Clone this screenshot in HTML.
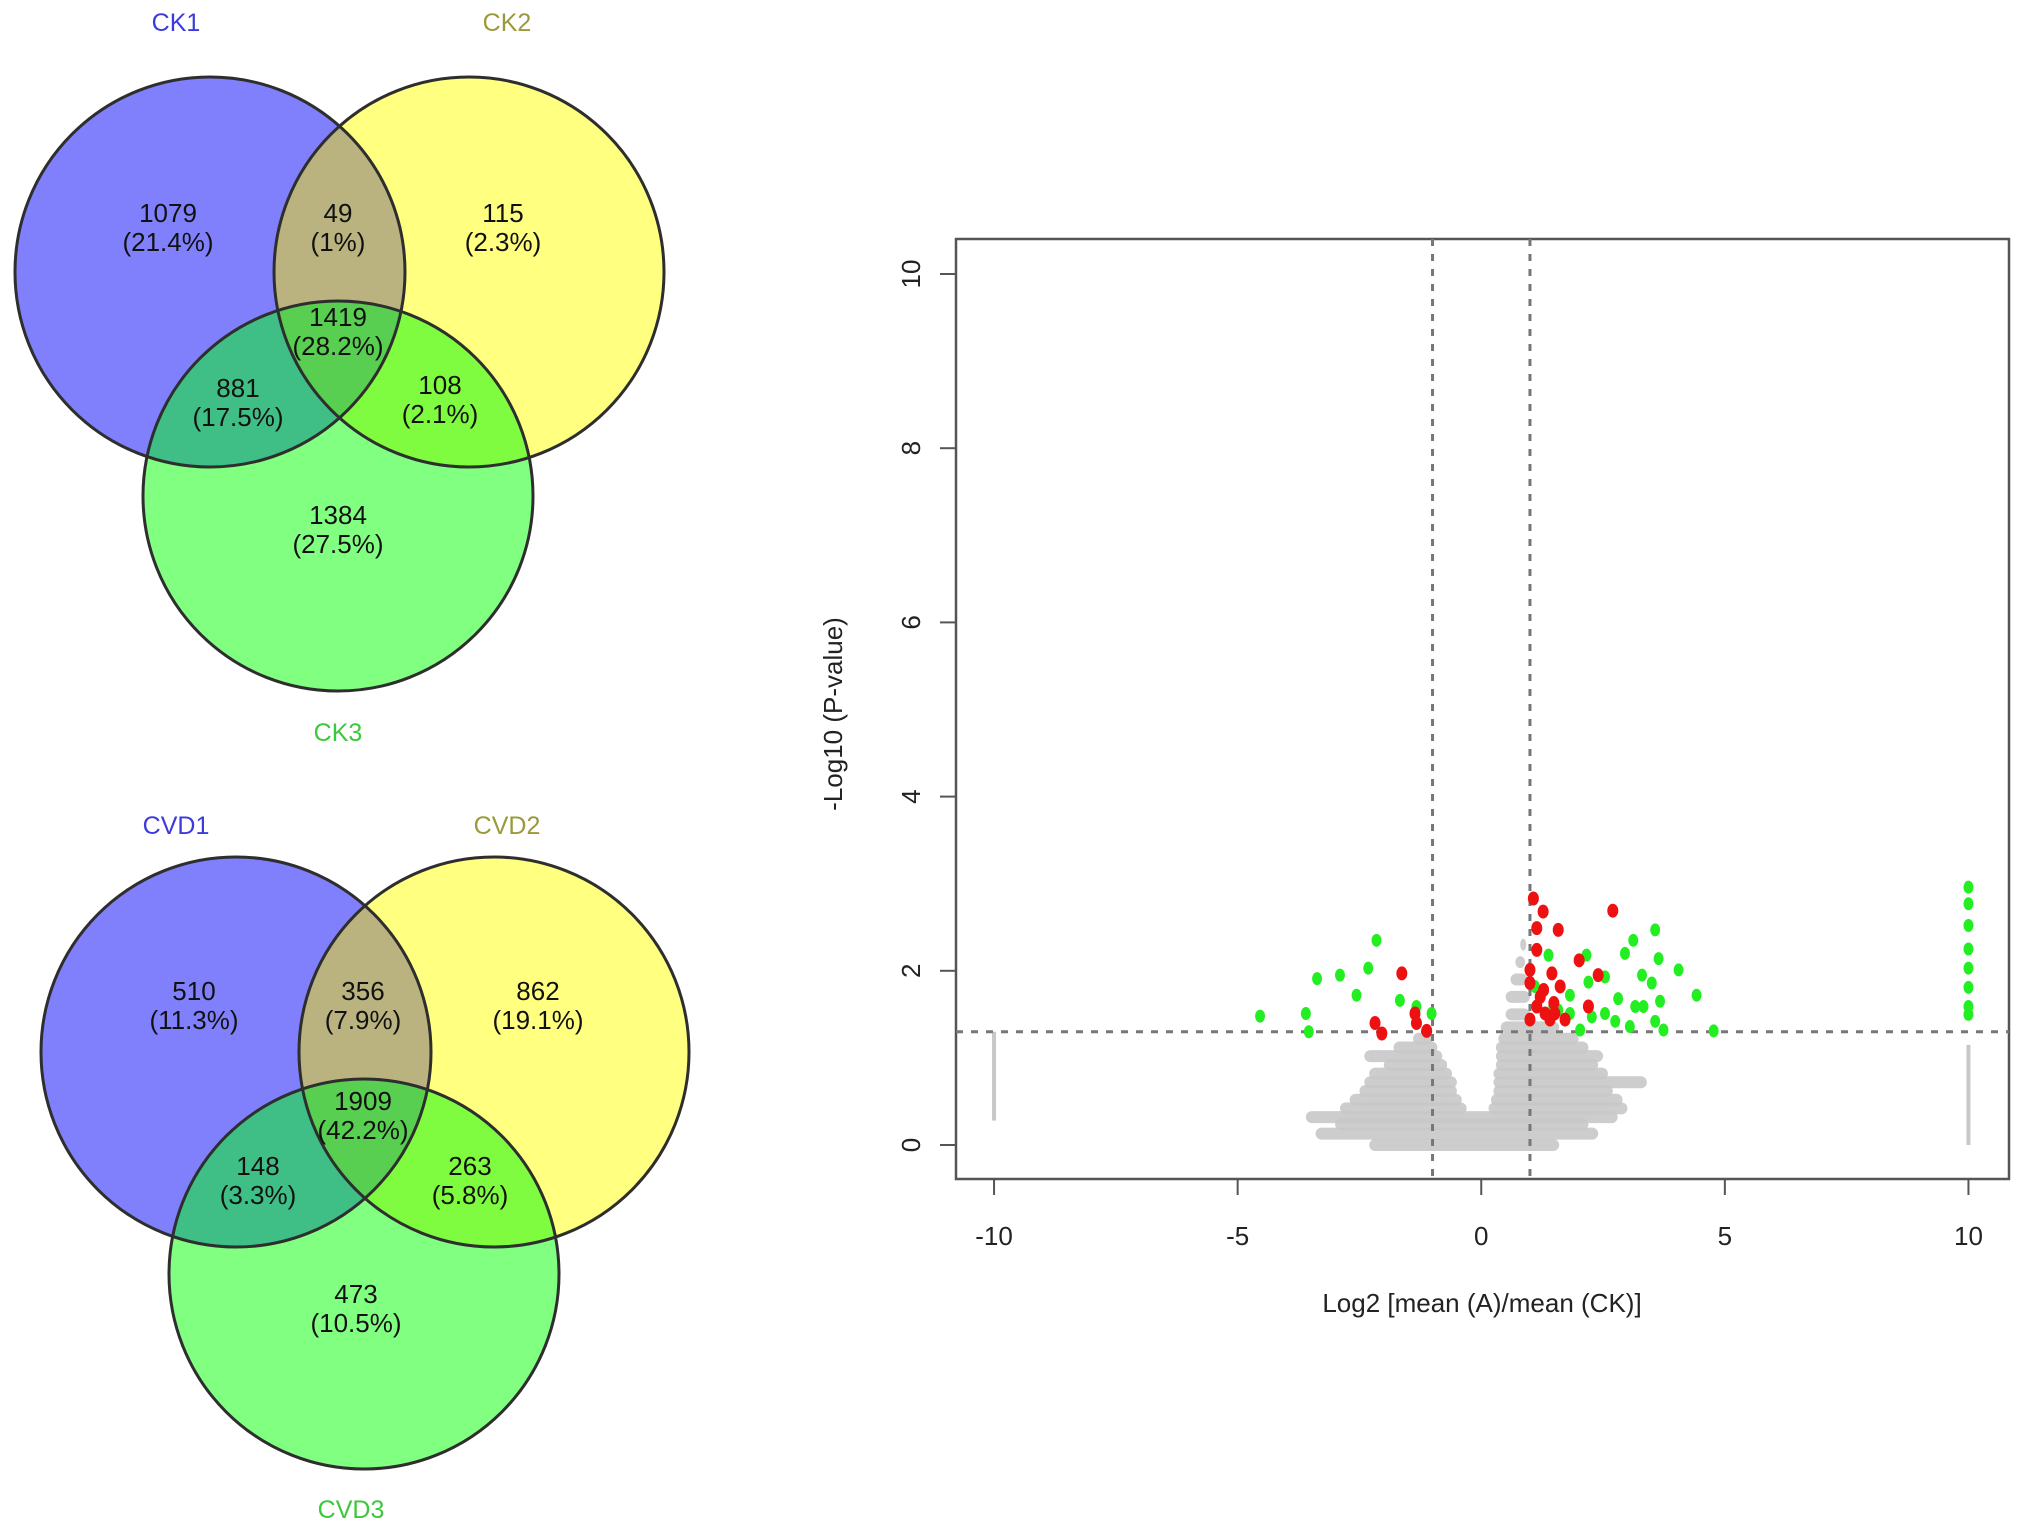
<!DOCTYPE html>
<html><head><meta charset="utf-8"><style>
html,body{margin:0;padding:0;background:#fff;}
svg{display:block;font-family:"Liberation Sans",Arial,sans-serif;}
</style></head><body>
<svg id="root" width="2024" height="1532" viewBox="0 0 2024 1532" xmlns="http://www.w3.org/2000/svg">
<defs>
<clipPath id="cA1"><circle cx="210" cy="272" r="195"/></clipPath>
<clipPath id="cB1"><circle cx="469" cy="272" r="195"/></clipPath>
<clipPath id="cC1"><circle cx="338" cy="496" r="195"/></clipPath>
<clipPath id="cA2"><circle cx="236" cy="1052" r="195"/></clipPath>
<clipPath id="cB2"><circle cx="494" cy="1052" r="195"/></clipPath>
<clipPath id="cC2"><circle cx="364" cy="1274" r="195"/></clipPath>
</defs>
<g id="venns"></g>
<g id="volcano"></g>
</svg>
<script>
const NS='http://www.w3.org/2000/svg';
function mk(tag,attrs,parent){const e=document.createElementNS(NS,tag);for(const k in attrs)e.setAttribute(k,attrs[k]);parent.appendChild(e);return e;}

// ---------- Venn data ----------
const venn1Sets=['CK1','CK2','CK3'];
const venn1Counts=[1079,49,115,1419,881,108,1384];
const venn1Pcts=['21.4%','1%','2.3%','28.2%','17.5%','2.1%','27.5%'];
const venn2Sets=['CVD1','CVD2','CVD3'];
const venn2Counts=[510,356,862,1909,148,263,473];
const venn2Pcts=['11.3%','7.9%','19.1%','42.2%','3.3%','5.8%','10.5%'];

function drawVenn(idx,sets,counts,pcts,circ,labelPos,textPos){
  const g=mk('g',{},document.getElementById('venns'));
  
  
  const cols=['#8080fd','#ffff80','#80ff80'];
  circ.forEach((c,i)=>{const e=mk('circle',{cx:c[0],cy:c[1],r:195,fill:cols[i]},g);
    
    });
  const A='url(#cA'+idx+')',B='url(#cB'+idx+')';
  let gg=mk('g',{'clip-path':A},g);mk('circle',{cx:circ[1][0],cy:circ[1][1],r:195,fill:'#bab37f'},gg);
  gg=mk('g',{'clip-path':A},g);mk('circle',{cx:circ[2][0],cy:circ[2][1],r:195,fill:'#3fbf86'},gg);
  gg=mk('g',{'clip-path':B},g);mk('circle',{cx:circ[2][0],cy:circ[2][1],r:195,fill:'#80fc40'},gg);
  gg=mk('g',{'clip-path':A},g);let g2=mk('g',{'clip-path':B},gg);mk('circle',{cx:circ[2][0],cy:circ[2][1],r:195,fill:'#58cf50'},g2);
  circ.forEach(c=>mk('circle',{cx:c[0],cy:c[1],r:195,fill:'none',stroke:'#2e2e2e','stroke-width':3},g));
  const lcols=['#3b3bdd','#9a9a3a','#3cc83c'];
  labelPos.forEach((p,i)=>{const t=mk('text',{x:p[0],y:p[1],'text-anchor':'middle','font-size':25,fill:lcols[i]},g);t.textContent=sets[i];
    });
  textPos.forEach((p,i)=>{const t=mk('text',{x:p[0],y:p[1],'text-anchor':'middle','font-size':26,fill:'#111'},g);t.textContent=counts[i];
    
    const t2=mk('text',{x:p[0],y:p[1]+29,'text-anchor':'middle','font-size':26,fill:'#111'},g);t2.textContent='('+pcts[i]+')';
    });
}
drawVenn(1,venn1Sets,venn1Counts,venn1Pcts,[[210,272],[469,272],[338,496]],
  [[176,31],[507,31],[338,741]],
  [[168,222],[338,222],[503,222],[338,326],[238,397],[440,394],[338,524]]);
drawVenn(2,venn2Sets,venn2Counts,venn2Pcts,[[236,1052],[494,1052],[364,1274]],
  [[176,834],[507,834],[351,1518]],
  [[194,1000],[363,1000],[538,1000],[363,1110],[258,1175],[470,1175],[356,1303]]);

// ---------- Volcano data ----------
const xTicks=[-10,-5,0,5,10];
const yTicks=[0,2,4,6,8,10];
const redX=[1.07,1.27,1.58,1.14,2.70,1.14,2.01,2.40,1.45,1.62,1.00,1.00,1.21,1.14,1.41,1.00,2.20,-1.63,-2.18,-2.04,-1.36,-1.33,-1.12,1.31,1.51,1.72,1.28,1.49];
const redY=[2.83,2.68,2.47,2.49,2.69,2.24,2.12,1.95,1.97,1.82,2.01,1.86,1.70,1.59,1.44,1.44,1.59,1.97,1.40,1.28,1.51,1.40,1.31,1.51,1.51,1.44,1.78,1.63];
const greenX=[-2.15,-2.32,-2.90,-3.37,-2.56,-1.67,-4.54,-3.60,-3.54,-1.33,-1.02,3.57,3.12,2.95,2.16,1.38,3.64,2.54,3.30,4.05,2.20,3.50,2.81,4.42,3.67,1.82,3.16,3.33,1.48,2.27,2.54,2.75,3.57,3.05,2.03,3.74,4.77,1.82,1.10,1.58,10,10,10,10,10,10,10,10];
const greenY=[2.35,2.03,1.95,1.91,1.72,1.66,1.48,1.51,1.30,1.59,1.51,2.47,2.35,2.20,2.18,2.18,2.14,1.93,1.95,2.01,1.87,1.86,1.68,1.72,1.65,1.72,1.59,1.59,1.59,1.47,1.51,1.42,1.42,1.36,1.32,1.32,1.31,1.51,1.82,1.55,2.96,2.77,2.52,2.25,2.03,1.81,1.59,1.50];
const grayBandY=[0.0,0.13,0.24,0.32,0.42,0.52,0.62,0.72,0.82,0.92,1.02,1.12,1.22,0.42,0.52,0.62,0.72,0.82,0.92,1.02,1.12,1.22,1.35,1.5,1.7,1.9,2.1,2.3];
const grayBandX0=[-2.3,-3.4,-3.0,-3.6,-2.9,-2.7,-2.5,-2.4,-2.3,-2.0,-2.4,-1.8,-1.4,0.15,0.2,0.25,0.25,0.25,0.3,0.3,0.3,0.35,0.4,0.5,0.5,0.6,0.7,0.8];
const grayBandX1=[1.6,2.4,2.2,2.8,-0.3,-0.4,-0.5,-0.5,-0.6,-0.7,-0.8,-0.9,-1.0,3.0,2.9,2.7,3.4,2.6,2.4,2.5,2.2,2.0,1.6,1.0,1.0,0.95,0.9,0.9];
const grayColX=[-10,10];
const grayColY0=[0.28,0.0];
const grayColY1=[1.3,1.15];

const vol=document.getElementById('volcano');
const L=956,R=2009,T=239,Bm=1179;
function xs(v){return 1481.25+48.72*v;}
function ys(v){return 1145-87.1*v;}

grayBandY.forEach((y,i)=>{const x0=xs(grayBandX0[i]),x1=xs(grayBandX1[i]);
  const r=mk('rect',{x:x0,y:ys(y)-6,width:Math.max(6,x1-x0),height:12,rx:6,fill:'#c8c8c8','fill-opacity':0.9},vol);
  });
grayColX.forEach((x,i)=>{const r=mk('rect',{x:xs(x)-2,y:ys(grayColY1[i]),width:4,height:ys(grayColY0[i])-ys(grayColY1[i]),fill:'#c8c8c8'},vol);
  });

const fr=mk('rect',{x:L,y:T,width:R-L,height:Bm-T,fill:'none',stroke:'#555','stroke-width':2.5},vol);

[-1,1].forEach(v=>{const l=mk('line',{x1:xs(v),x2:xs(v),y1:T,y2:Bm,stroke:'#777','stroke-width':3,'stroke-dasharray':'7,8'},vol);
  });
const hl=mk('line',{x1:L,x2:R,y1:ys(1.3),y2:ys(1.3),stroke:'#777','stroke-width':3,'stroke-dasharray':'7,8'},vol);


greenX.forEach((x,i)=>{const e=mk('ellipse',{cx:xs(x),cy:ys(greenY[i]),rx:5,ry:6.5,fill:'#22ee22'},vol);
  });
redX.forEach((x,i)=>{const e=mk('ellipse',{cx:xs(x),cy:ys(redY[i]),rx:5.5,ry:7,fill:'#ee1111'},vol);
  });

xTicks.forEach(v=>{mk('line',{x1:xs(v),x2:xs(v),y1:Bm,y2:Bm+16,stroke:'#555','stroke-width':2},vol);
  const t=mk('text',{x:xs(v),y:1245,'text-anchor':'middle','font-size':26,fill:'#222'},vol);t.textContent=v;
  });
yTicks.forEach(v=>{mk('line',{x1:L-16,x2:L,y1:ys(v),y2:ys(v),stroke:'#555','stroke-width':2},vol);
  const t=mk('text',{x:0,y:0,'text-anchor':'middle','font-size':26,fill:'#222',transform:'translate(920,'+ys(v)+') rotate(-90)'},vol);t.textContent=v;
  });
const xt=mk('text',{x:1482,y:1312,'text-anchor':'middle','font-size':26,fill:'#222'},vol);xt.textContent='Log2 [mean (A)/mean (CK)]';

const yt=mk('text',{x:0,y:0,'text-anchor':'middle','font-size':26,fill:'#222',transform:'translate(842,714) rotate(-90)'},vol);yt.textContent='-Log10 (P-value)';

</script>
</body></html>
